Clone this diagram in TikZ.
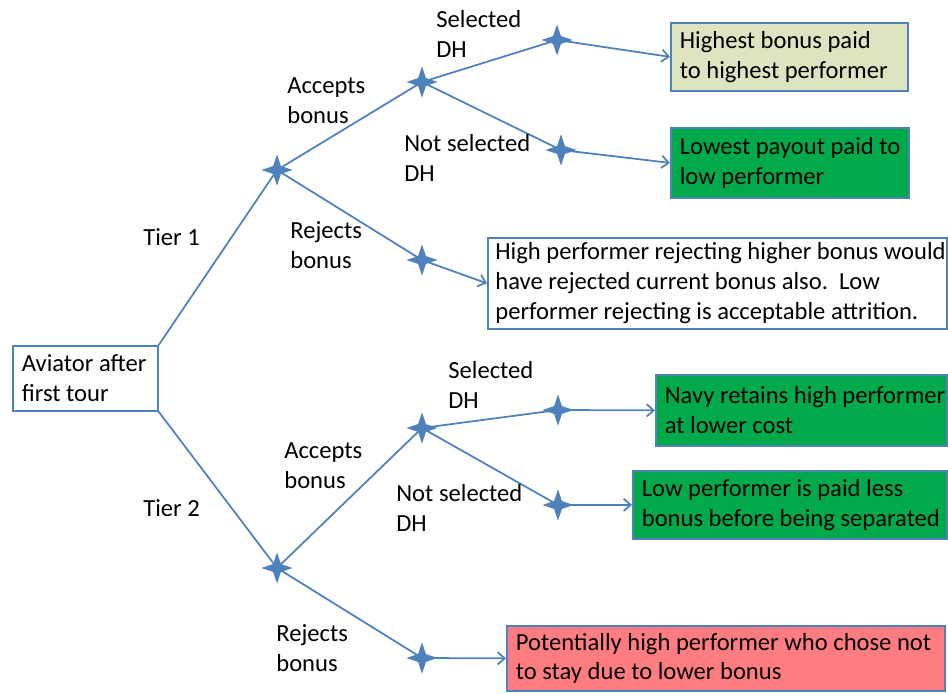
\documentclass[tikz,border=0pt]{standalone}
\usepackage{fontspec}
\setmainfont{Carlito}
\usetikzlibrary{shapes.geometric,arrows.meta,backgrounds}
\definecolor{linie}{RGB}{79,129,189}
\definecolor{hellgruen}{RGB}{221,228,192}
\definecolor{gruen}{RGB}{0,170,75}
\definecolor{rot}{RGB}{255,124,128}
\begin{document}
\begin{tikzpicture}[x=0.02cm, y=-0.02cm,
	every node/.style={font=\fontsize{14}{17}\selectfont},
	stern/.style={star, star points=4, star point ratio=2.8, fill=linie, inner sep=0pt, minimum size=0.62cm},
	kasten/.style={draw=linie, line width=1pt, anchor=north west, inner sep=0pt},
	inhalt/.style={anchor=west, align=left, inner sep=0pt, xshift=0.19cm},
	marke/.style={anchor=west, align=left, inner sep=0pt},
	ast/.style={draw=linie, line width=1pt},
	pfeil/.style={ast, -{Straight Barb[length=4pt, width=7pt]}}]
	\useasboundingbox (0,0) rectangle (948,694);
	
	%Wurzel
	\node[kasten, minimum width=2.9cm, minimum height=1.3cm,
		label={[inhalt]west:Aviator after\\first tour}] (wurzel) at (12,345) {};
	
	%Sterne
	\foreach \n/\x/\y in {s1/277/170, s2/277/568, a1/422/82, r1/422/260, g1/557/40, n1/561/150,
		a2/422/428, r2/422/658, g2/558/410, n2/558/505} {
		\node[stern] (\n) at (\x,\y) {};
	}
	
	%Ergebnisse
	\node[kasten, fill=hellgruen, minimum width=4.74cm, minimum height=1.36cm,
		label={[inhalt]west:Highest bonus paid\\to highest performer}] (e1) at (670,22) {};
	\node[kasten, fill=gruen, minimum width=4.76cm, minimum height=1.4cm,
		label={[inhalt]west:Lowest payout paid to\\low performer}] (e2) at (670,127) {};
	\node[kasten, fill=white, minimum width=9.18cm, minimum height=1.82cm,
		label={[inhalt, xshift=-0.03cm]west:High performer rejecting higher bonus would\\have rejected current bonus also.\ \ Low\\performer rejecting is acceptable attrition.}] (e3) at (487,237) {};
	\node[kasten, fill=gruen, minimum width=5.82cm, minimum height=1.42cm,
		label={[inhalt]west:Navy retains high performer\\at lower cost}] (e4) at (655,374) {};
	\node[kasten, fill=gruen, minimum width=6.28cm, minimum height=1.36cm,
		label={[inhalt]west:Low performer is paid less\\bonus before being separated}] (e5) at (632,470) {};
	\node[kasten, fill=rot, minimum width=8.76cm, minimum height=1.3cm,
		label={[inhalt]west:Potentially high performer who chose not\\to stay due to lower bonus}] (e6) at (506,625) {};
	
	%Beschriftungen
	\node[marke] (t1) at (143,237) {Tier 1};
	\node[marke] (t2) at (143,508) {Tier 2};
	\node[marke] (la1) at (287,101) {Accepts\\bonus};
	\node[marke] (lr1) at (290,245) {Rejects\\bonus};
	\node[marke] (lg1) at (436,34) {Selected\\DH};
	\node[marke] (ln1) at (404,158) {Not selected\\DH};
	\node[marke] (lg2) at (448,385) {Selected\\DH};
	\node[marke] (la2) at (284,466) {Accepts\\bonus};
	\node[marke] (ln2) at (396,508) {Not selected\\DH};
	\node[marke] (lr2) at (276,648) {Rejects\\bonus};
	
	%Aeste und Pfeile
	\begin{scope}[on background layer]
		\draw[ast] (wurzel.north east) -- (s1.center);
		\draw[ast] (wurzel.south east) -- (s2.center);
		\foreach \a/\b in {s1/a1, s1/r1, a1/g1, a1/n1, s2/a2, s2/r2, a2/g2, a2/n2} {
			\draw[ast] (\a.center) -- (\b.center);
		}
		\foreach \a/\b in {g1/e1, n1/e2, r1/e3, g2/e4, n2/e5, r2/e6} {
			\draw[pfeil] (\a.center) -- (\b.west);
		}
	\end{scope}
\end{tikzpicture}
\end{document}
